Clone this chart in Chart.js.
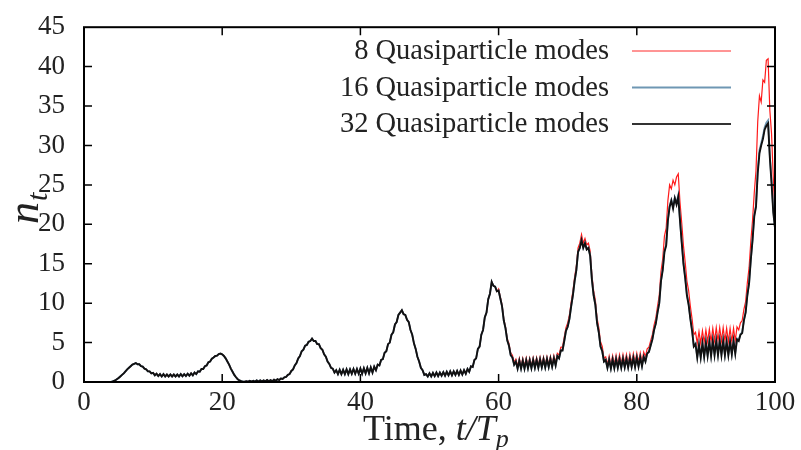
<!DOCTYPE html>
<html>
<head>
<meta charset="utf-8">
<script src="https://cdn.jsdelivr.net/npm/chart.js@4.4.1/dist/chart.umd.min.js"></script>
<style>
  html, body { margin: 0; padding: 0; background: #fff; }
  #wrap { width: 801px; height: 450px; }
</style>
</head>
<body>
<div id="wrap"><canvas id="chart" width="801" height="450"></canvas></div>
<script>
// sample step 0.25 in t/Tp, 0..100
var step = 0.25;

// shared part (t = 0 .. 59.75), all three runs overlap here
var early = [
  0, 0, 0, 0,
  0, 0, 0, 0,
  0, 0, 0, 0,
  0, 0, 0.01, 0.02,
  0.05, 0.1, 0.2, 0.35,
  0.5, 0.7, 0.9, 1.1,
  1.35, 1.6, 1.8, 2.0,
  2.2, 2.3, 2.4, 2.25,
  2.25, 2.0, 1.95, 1.7,
  1.6, 1.35, 1.35, 1.1,
  1.15, 0.85, 1.05, 0.75,
  1.0, 0.7, 1.0, 0.7,
  0.95, 0.7, 0.95, 0.7,
  0.95, 0.7, 0.95, 0.7,
  1.0, 0.72, 1.0, 0.75,
  1.05, 0.8, 1.1, 0.85,
  1.2, 1.0, 1.35, 1.3,
  1.65, 1.65, 2.0, 2.1,
  2.5, 2.6, 2.95, 3.1,
  3.3, 3.35, 3.55, 3.6,
  3.5, 3.3, 3.0, 2.6,
  2.2, 1.7, 1.3, 0.9,
  0.6, 0.35, 0.2, 0.1,
  0.05, 0.04, 0.1, 0.05,
  0.15, 0.05, 0.15, 0.05,
  0.2, 0.05, 0.2, 0.08,
  0.2, 0.08, 0.25, 0.1,
  0.25, 0.1, 0.3, 0.15,
  0.35, 0.25, 0.45, 0.4,
  0.6, 0.65, 0.9, 1.0,
  1.4, 1.6, 2.1, 2.4,
  3.0, 3.3, 3.9, 4.1,
  4.6, 4.7, 5.1, 5.2,
  5.5, 5.2, 5.2, 4.8,
  4.8, 4.3, 4.1, 3.5,
  3.2, 2.6, 2.3, 1.8,
  1.7, 1.2, 1.5, 1.0,
  1.55, 1.0, 1.55, 1.0,
  1.6, 1.0, 1.6, 1.05,
  1.65, 1.05, 1.65, 1.05,
  1.7, 1.05, 1.75, 1.1,
  1.8, 1.1, 1.85, 1.2,
  1.95, 1.5, 2.2, 2.1,
  2.8, 2.9, 3.7, 3.9,
  4.8, 5.0, 6.0, 6.3,
  7.3, 7.6, 8.5, 8.8,
  9.1, 8.6, 8.5, 7.9,
  7.6, 6.6, 6.0, 4.9,
  4.2, 3.2, 2.6, 1.8,
  1.5, 0.9, 1.0, 0.7,
  1.1, 0.7, 1.15, 0.75,
  1.2, 0.75, 1.2, 0.8,
  1.25, 0.8, 1.3, 0.85,
  1.35, 0.85, 1.35, 0.9,
  1.4, 0.9, 1.45, 0.95,
  1.5, 1.05, 1.65, 1.3,
  2.0, 1.9, 2.8, 3.0,
  4.2, 4.5, 6.0, 6.6,
  8.2, 8.8, 10.5, 11.2,
  12.7, 12.2, 12.1, 11.5
];

// t = 60 .. 100
var tail8 = [
  11.8, 10.8, 9.8, 8.0,
  7.0, 5.5, 4.9, 3.7,
  3.4, 2.5, 2.9, 2.0,
  3.0, 2.0, 3.0, 2.0,
  3.05, 2.05, 3.05, 2.05,
  3.1, 2.1, 3.1, 2.1,
  3.15, 2.15, 3.15, 2.15,
  3.2, 2.2, 3.25, 2.25,
  3.35, 2.45, 3.65, 3.4,
  4.4, 4.45, 5.7, 6.9,
  7.5, 8.5, 10.1, 11.5,
  13.3, 14.7, 17.0, 17.6,
  18.7, 17.6, 18.2, 17.4,
  17.6, 16.6, 13.6, 11.6,
  10.4, 8.1, 6.9, 5.1,
  4.5, 3.0, 3.2, 2.2,
  3.3, 2.2, 3.35, 2.25,
  3.4, 2.3, 3.45, 2.3,
  3.5, 2.35, 3.5, 2.35,
  3.55, 2.4, 3.6, 2.45,
  3.65, 2.5, 3.7, 2.6,
  3.8, 3.2, 4.2, 4.4,
  5.2, 6.0, 7.2, 8.1,
  9.6, 11.0, 14.0, 15.6,
  18.5, 19.5, 23.0, 25.0,
  24.5, 25.6, 25.0, 26.0,
  26.4, 22.8, 20.2, 17.3,
  15.2, 12.8, 11.6, 9.6,
  8.0, 6.0, 6.3, 4.9,
  6.4, 4.9, 6.5, 5.0,
  6.6, 5.1, 6.7, 5.1,
  6.8, 5.2, 6.9, 5.2,
  6.9, 5.2, 6.9, 5.2,
  6.8, 5.1, 6.8, 5.1,
  6.8, 5.2, 7.0, 6.6,
  7.5, 7.8, 9.2, 10.2,
  12.6, 14.5, 17.8, 20.5,
  24.0, 26.8, 33.0, 36.3,
  35.5, 38.3, 38.0, 40.8,
  41.0, 34.5, 31.5, 26.0,
  21.0
];

var tail16 = [
  11.6, 10.6, 9.6, 7.8,
  6.8, 5.3, 4.6, 3.4,
  3.1, 2.2, 2.6, 1.7,
  2.7, 1.7, 2.7, 1.7,
  2.75, 1.75, 2.75, 1.75,
  2.8, 1.8, 2.8, 1.8,
  2.85, 1.85, 2.85, 1.85,
  2.9, 1.9, 2.95, 1.95,
  3.0, 2.1, 3.3, 3.0,
  4.0, 4.0, 5.2, 6.5,
  7.0, 8.0, 9.6, 11.0,
  12.8, 14.2, 16.5, 17.0,
  18.05, 17.05, 17.65, 16.85,
  17.05, 16.05, 13.05, 11.05,
  9.8, 7.5, 6.3, 4.5,
  3.9, 2.6, 2.8, 1.8,
  2.85, 1.75, 2.9, 1.8,
  2.95, 1.85, 2.95, 1.85,
  3.0, 1.9, 3.0, 1.9,
  3.05, 1.95, 3.1, 1.95,
  3.15, 2.0, 3.15, 2.05,
  3.25, 2.65, 3.65, 3.85,
  4.65, 5.45, 6.65, 7.45,
  8.85, 10.05, 12.9, 14.3,
  16.6, 17.4, 20.6, 22.35,
  23.1, 22.2, 23.4, 22.7,
  23.7, 20.6, 17.8, 15.1,
  13.3, 11.1, 9.9, 8.1,
  6.6, 4.6, 4.9, 3.2,
  4.8, 3.2, 5.0, 3.3,
  5.1, 3.4, 5.2, 3.4,
  5.3, 3.5, 5.3, 3.5,
  5.3, 3.5, 5.3, 3.5,
  5.2, 3.5, 5.2, 3.6,
  5.3, 3.7, 5.5, 5.3,
  6.1, 6.3, 7.9, 8.9,
  11.1, 12.6, 15.6, 18.1,
  21.2, 22.4, 26.8, 29.4,
  30.3, 31.2, 32.3, 32.9,
  33.2, 28.8, 25.5, 21.8,
  19.6
];

var tail32 = [
  11.6, 10.6, 9.6, 7.8,
  6.8, 5.3, 4.6, 3.4,
  3.1, 2.2, 2.6, 1.7,
  2.7, 1.7, 2.7, 1.7,
  2.75, 1.75, 2.75, 1.75,
  2.8, 1.8, 2.8, 1.8,
  2.85, 1.85, 2.85, 1.85,
  2.9, 1.9, 2.95, 1.95,
  3.0, 2.1, 3.3, 3.0,
  4.0, 4.0, 5.2, 6.5,
  7.0, 8.0, 9.6, 11.0,
  12.8, 14.2, 16.5, 17.0,
  18.0, 17.0, 17.6, 16.8,
  17.0, 16.0, 13.0, 11.0,
  9.8, 7.5, 6.3, 4.5,
  3.9, 2.6, 2.8, 1.8,
  2.8, 1.7, 2.85, 1.75,
  2.9, 1.8, 2.9, 1.8,
  2.95, 1.85, 2.95, 1.85,
  3.0, 1.9, 3.05, 1.9,
  3.1, 1.95, 3.1, 2.0,
  3.2, 2.6, 3.6, 3.8,
  4.6, 5.4, 6.6, 7.4,
  8.8, 10.0, 12.8, 14.2,
  16.5, 17.3, 20.5, 22.2,
  23.0, 22.0, 23.3, 22.5,
  23.5, 20.5, 17.7, 15.0,
  13.2, 11.0, 9.8, 8.0,
  6.5, 4.5, 4.8, 3.1,
  4.7, 3.1, 4.9, 3.2,
  5.0, 3.3, 5.1, 3.3,
  5.2, 3.4, 5.2, 3.4,
  5.2, 3.4, 5.2, 3.4,
  5.1, 3.4, 5.1, 3.5,
  5.2, 3.6, 5.4, 5.2,
  6.0, 6.2, 7.8, 8.8,
  11.0, 12.5, 15.5, 18.0,
  21.0, 22.2, 26.5, 29.0,
  30.0, 30.8, 32.0, 32.5,
  32.8, 28.5, 25.2, 21.5,
  19.5
];

var seriesNames = ['8 Quasiparticle modes', '16 Quasiparticle modes', '32 Quasiparticle modes'];
var seriesColors = ['#ff1a1a', '#6f97b3', '#111111'];
var xTicks = [0, 20, 40, 60, 80, 100];
var yTicks = [0, 5, 10, 15, 20, 25, 30, 35, 40, 45];

var n8 = early.concat(tail8);
var n16 = early.concat(tail16);
var n32 = early.concat(tail32);
var times = n32.map(function (v, i) { return i * step; });

function pts(arr) {
  return arr.map(function (v, i) { return { x: times[i], y: v }; });
}

var serif = '"Liberation Serif", "DejaVu Serif", serif';

// frame, inward ticks, legend and axis titles (gnuplot look)
var gnuplotLook = {
  id: 'gnuplotLook',
  afterDatasetsDraw: function (chart) {
    var ctx = chart.ctx, a = chart.chartArea;
    var xs = chart.scales.x, ys = chart.scales.y;
    ctx.save();
    ctx.strokeStyle = '#000';
    ctx.lineWidth = 1.5;
    ctx.beginPath();
    xTicks.forEach(function (t) {
      if (t === 0 || t === 100) return;
      var px = xs.getPixelForValue(t);
      ctx.moveTo(px, a.bottom); ctx.lineTo(px, a.bottom - 8);
      ctx.moveTo(px, a.top); ctx.lineTo(px, a.top + 8);
    });
    yTicks.forEach(function (t) {
      if (t === 0 || t === 45) return;
      var py = ys.getPixelForValue(t);
      ctx.moveTo(a.left, py); ctx.lineTo(a.left + 8, py);
      ctx.moveTo(a.right, py); ctx.lineTo(a.right - 8, py);
    });
    ctx.stroke();
    ctx.lineWidth = 2;
    ctx.strokeRect(a.left, a.top, a.right - a.left, a.bottom - a.top);

    // legend
    ctx.font = '28.5px ' + serif;
    ctx.textAlign = 'right';
    ctx.textBaseline = 'alphabetic';
    ctx.fillStyle = '#222';
    var widths = [1, 2, 2];
    var lineCols = ['#ff2a2a', '#6f97b3', '#333'];
    seriesNames.forEach(function (name, i) {
      var base = 59 + i * 36.5;
      ctx.fillText(name, 609, base);
      ctx.strokeStyle = lineCols[i];
      ctx.lineWidth = widths[i];
      ctx.beginPath();
      ctx.moveTo(632, base - 8);
      ctx.lineTo(731, base - 8);
      ctx.stroke();
    });

    // x title: Time, t/T_p
    ctx.textAlign = 'left';
    ctx.fillStyle = '#222';
    var x0 = 363, yb = 440;
    ctx.font = '36px ' + serif;
    ctx.fillText('Time, ', x0, yb);
    x0 += ctx.measureText('Time, ').width;
    ctx.font = 'italic 36px ' + serif;
    ctx.fillText('t/T', x0, yb);
    x0 += ctx.measureText('t/T').width;
    ctx.font = 'italic 26px ' + serif;
    ctx.fillText('p', x0, yb + 7);

    // y title: n_t
    ctx.translate(38, 224);
    ctx.rotate(-Math.PI / 2);
    ctx.font = 'italic 44px ' + serif;
    ctx.fillText('n', 0, 0);
    var wn = ctx.measureText('n').width;
    ctx.font = 'italic 30px ' + serif;
    ctx.fillText('t', wn + 1, 9);
    ctx.restore();
  }
};

new Chart(document.getElementById('chart'), {
  type: 'line',
  data: {
    datasets: [
      { label: seriesNames[0], data: pts(n8), borderColor: seriesColors[0], borderWidth: 1.2, order: 3 },
      { label: seriesNames[1], data: pts(n16), borderColor: seriesColors[1], borderWidth: 1.8, order: 2 },
      { label: seriesNames[2], data: pts(n32), borderColor: seriesColors[2], borderWidth: 1.9, order: 1 }
    ]
  },
  options: {
    responsive: false,
    animation: false,
    events: [],
    layout: { padding: { left: 0, right: 26, top: 22, bottom: 0 } },
    elements: { point: { radius: 0 }, line: { tension: 0 } },
    plugins: { legend: { display: false }, tooltip: { enabled: false } },
    scales: {
      x: {
        type: 'linear', min: 0, max: 100,
        grid: { display: false }, border: { display: false },
        afterBuildTicks: function (s) { s.ticks = xTicks.map(function (v) { return { value: v }; }); },
        afterFit: function (s) { s.height = 68; },
        ticks: { font: { family: serif, size: 27 }, color: '#222', padding: -3, maxRotation: 0 }
      },
      y: {
        min: 0, max: 45,
        grid: { display: false }, border: { display: false },
        afterBuildTicks: function (s) { s.ticks = yTicks.map(function (v) { return { value: v }; }); },
        afterFit: function (s) { s.width = 84; },
        ticks: { font: { family: serif, size: 27 }, color: '#222', padding: 11 }
      }
    }
  },
  plugins: [gnuplotLook]
});
</script>
</body>
</html>
